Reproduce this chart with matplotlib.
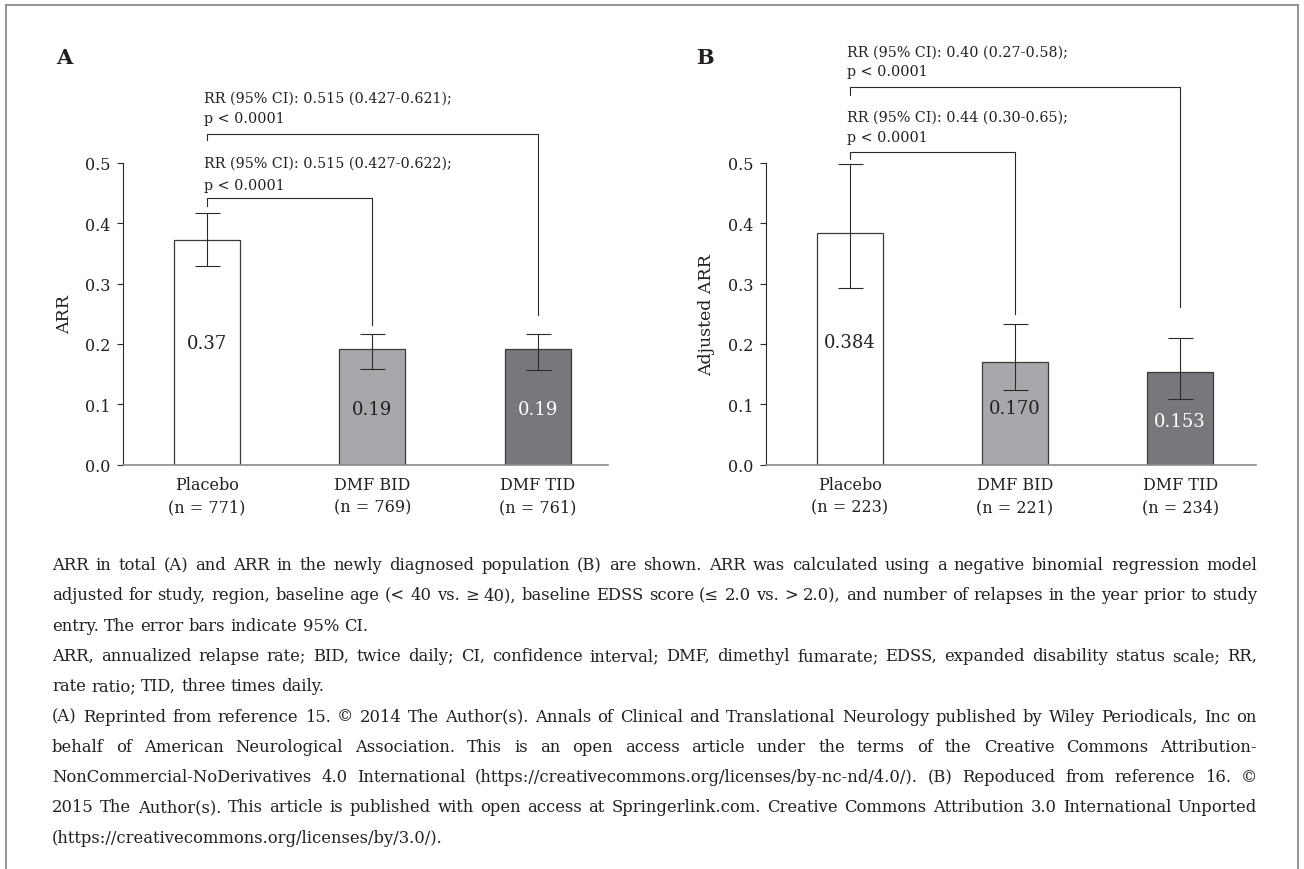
import matplotlib
matplotlib.use("Agg")
import matplotlib.pyplot as plt
from matplotlib.lines import Line2D

plt.rcParams['font.family'] = ['DejaVu Serif']

# data
groups = ["Placebo", "DMF BID", "DMF TID"]
n_a = [771, 769, 761]
n_b = [223, 221, 234]

arr_a = [0.372, 0.192, 0.191]
lab_a = ["0.37", "0.19", "0.19"]
ci_lo_a = [0.329, 0.158, 0.157]
ci_hi_a = [0.417, 0.217, 0.217]

arr_b = [0.384, 0.170, 0.153]
lab_b = ["0.384", "0.170", "0.153"]
ci_lo_b = [0.293, 0.123, 0.108]
ci_hi_b = [0.498, 0.233, 0.210]

rr_a = ["RR (95% CI): 0.515 (0.427-0.622);", "RR (95% CI): 0.515 (0.427-0.621);"]
rr_b = ["RR (95% CI): 0.44 (0.30-0.65);", "RR (95% CI): 0.40 (0.27-0.58);"]

caption = [
    ("ARR in total (A) and ARR in the newly diagnosed population (B) are shown. ARR was calculated using a negative binomial regression model", True),
    ("adjusted for study, region, baseline age (< 40 vs. \u2265 40), baseline EDSS score (\u2264 2.0 vs.  > 2.0), and number of relapses in the year prior to study", True),
    ("entry. The error bars indicate 95% CI.", False),
    ("ARR, annualized relapse rate; BID, twice daily; CI, confidence interval; DMF, dimethyl fumarate; EDSS, expanded disability status scale; RR,", True),
    ("rate ratio; TID, three times daily.", False),
    ("(A) Reprinted from reference 15. \u00a9 2014 The Author(s). Annals of Clinical and Translational Neurology published by Wiley Periodicals, Inc on", True),
    ("behalf of American Neurological Association. This is an open access article under the terms of the Creative Commons Attribution-", True),
    ("NonCommercial-NoDerivatives 4.0 International (https://creativecommons.org/licenses/by-nc-nd/4.0/). (B) Repoduced from reference 16. \u00a9", True),
    ("2015 The Author(s). This article is published with open access at Springerlink.com. Creative Commons Attribution 3.0 International Unported", True),
    ("(https://creativecommons.org/licenses/by/3.0/).", False),
]

W, H = 1304, 870
txt = '#231f20'
bar_colors = ['white', '#a7a8ab', '#77787b']
val_colors = [txt, txt, 'white']

fig = plt.figure(figsize=(W / 100, H / 100), dpi=100)

# frame around the whole figure (bottom edge is cut off in the original)
fig.add_artist(Line2D([6 / W, 6 / W], [0, 1 - 6 / H], color='#808080', lw=1.2))
fig.add_artist(Line2D([6 / W, 1298 / W], [1 - 6 / H, 1 - 6 / H], color='#808080', lw=1.2))
fig.add_artist(Line2D([1298 / W, 1298 / W], [0, 1 - 6 / H], color='#808080', lw=1.2))


def panel(rect, xlim, vals, labs, lo, hi, ns, ylabel, ylab_x, rr, brackets, rr_y, lab_y):
    ax = fig.add_axes(rect)
    x = range(len(groups))
    err = [[v - l for v, l in zip(vals, lo)], [h - v for v, h in zip(vals, hi)]]
    ax.bar(x, vals, width=0.4, color=bar_colors, edgecolor='#3a3a3a', linewidth=0.9, zorder=2)
    ax.errorbar(x, vals, yerr=err, fmt='none', ecolor='#2a2a2a', elinewidth=0.8,
                capsize=9, capthick=0.8, zorder=3)
    for i, (lb, ly) in enumerate(zip(labs, lab_y)):
        ax.text(i, ly, lb, ha='center', va='center', fontsize=13, color=val_colors[i], zorder=4)
    ax.set_xlim(*xlim)
    ax.set_ylim(0, 0.5)
    ax.set_yticks([0, 0.1, 0.2, 0.3, 0.4, 0.5])
    ax.set_yticklabels(["%.1f" % t for t in [0, 0.1, 0.2, 0.3, 0.4, 0.5]])
    ax.set_xticks(list(x))
    ax.set_xticklabels(["%s\n(n = %d)" % (g, n) for g, n in zip(groups, ns)], linespacing=1.45)
    ax.tick_params(axis='x', length=0, pad=8, labelsize=11.5, colors=txt)
    ax.tick_params(axis='y', length=4.5, width=0.8, pad=4.5, labelsize=11.5, colors=txt)
    ax.tick_params(axis='y', color='#2a2a2a')
    for s in ['top', 'right']:
        ax.spines[s].set_visible(False)
    ax.spines['left'].set_color('#2a2a2a')
    ax.spines['left'].set_linewidth(0.8)
    ax.spines['bottom'].set_color('#8a8a8a')
    ax.spines['bottom'].set_linewidth(1.2)
    ax.set_ylabel(ylabel, fontsize=12.5, color=txt)
    ax.yaxis.label.set_va('center')
    ax.yaxis.set_label_coords(ylab_x, 0.5)
    # significance brackets
    for (x2, ytop, yleft, yright), t, (t1, t2) in zip(brackets, rr, rr_y):
        ax.plot([0, 0, x2, x2], [yleft, ytop, ytop, yright], color='#2a2a2a', lw=0.8,
                clip_on=False, zorder=3)
        ax.text(-0.016, t1, t, ha='left', va='center', fontsize=10.3, color=txt, clip_on=False)
        ax.text(-0.016, t2, "p < 0.0001", ha='left', va='center', fontsize=10.3, color=txt, clip_on=False)
    return ax


panel([122.7 / W, 0.4649, 485.3 / W, 0.3466], (-0.507, 2.423), arr_a, lab_a, ci_lo_a, ci_hi_a, n_a,
      "ARR", -0.119, rr_a,
      [(1, 0.4415, 0.429, 0.232), (2, 0.548, 0.5376, 0.248)],
      [(0.50, 0.4635), (0.609, 0.575)], [0.201, 0.092, 0.092])

panel([765.8 / W, 0.4649, 490.2 / W, 0.3466], (-0.51, 2.46), arr_b, lab_b, ci_lo_b, ci_hi_b, n_b,
      "Adjusted ARR", -0.12, rr_b,
      [(1, 0.519, 0.507, 0.25), (2, 0.626, 0.613, 0.261)],
      [(0.577, 0.543), (0.685, 0.652)], [0.203, 0.093, 0.073])

fig.text(64 / W, 1 - 58 / H, "A", fontsize=15, fontweight='bold', ha='center', va='center', color=txt)
fig.text(705 / W, 1 - 58 / H, "B", fontsize=15, fontweight='bold', ha='center', va='center', color=txt)

# justified caption, placed word by word
renderer = fig.canvas.get_renderer()
cap_kw = dict(fontsize=11.8, color=txt, va='baseline', ha='left')
x0, x1 = 52.0, 1257.0
probe1 = fig.text(0, 0, "x x", **cap_kw)
probe2 = fig.text(0, 0, "xx", **cap_kw)
space_w = probe1.get_window_extent(renderer).width - probe2.get_window_extent(renderer).width
probe1.remove()
probe2.remove()

for i, (line, just) in enumerate(caption):
    yb = 1 - (570 + 30.3 * i) / H
    words = line.split()
    objs = [fig.text(0, yb, w, **cap_kw) for w in words]
    widths = [o.get_window_extent(renderer).width for o in objs]
    if just and len(words) > 1:
        gap = (x1 - x0 - sum(widths)) / (len(words) - 1)
    else:
        gap = space_w
    xp = x0
    for o, w in zip(objs, widths):
        o.set_x(xp / W)
        xp += w + gap

fig.savefig("out.png", dpi=100)
